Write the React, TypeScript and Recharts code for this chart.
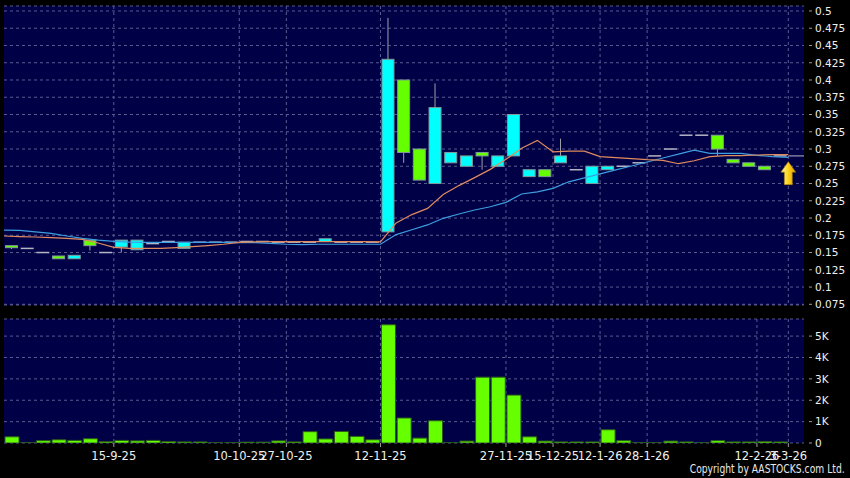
import { ComposedChart, Bar, Line, XAxis, YAxis, CartesianGrid, ReferenceDot, ReferenceLine } from 'recharts';

// daily candles, one per trading slot (slot index = position on the x axis)
const OPEN = [
    0.16, 0.156, 0.15, 0.145, 0.141, 0.168, 0.15, 0.158, 0.154, 0.163,
    0.166, 0.156, 0.165, 0.165, 0.165, 0.166, 0.166, 0.165, 0.165, 0.165,
    0.166, 0.165, 0.165, 0.165, 0.18, 0.4, 0.3, 0.25, 0.28, 0.275,
    0.295, 0.275, 0.29, 0.26, 0.27, 0.28, 0.27, 0.25, 0.27, 0.275,
    0.28, 0.29, 0.3, 0.32, 0.32, 0.32, 0.285, 0.28, 0.275, 0.29,
];
const HIGH = [
    0.16, 0.156, 0.151, 0.145, 0.146, 0.168, 0.15, 0.168, 0.168, 0.163,
    0.166, 0.165, 0.165, 0.165, 0.165, 0.166, 0.166, 0.165, 0.165, 0.165,
    0.17, 0.165, 0.165, 0.165, 0.49, 0.4, 0.3, 0.395, 0.295, 0.29,
    0.295, 0.29, 0.35, 0.27, 0.27, 0.315, 0.27, 0.275, 0.275, 0.275,
    0.28, 0.29, 0.3, 0.32, 0.32, 0.32, 0.285, 0.28, 0.275, 0.29,
];
const LOW = [
    0.155, 0.156, 0.15, 0.141, 0.141, 0.153, 0.15, 0.15, 0.154, 0.163,
    0.166, 0.156, 0.165, 0.165, 0.165, 0.166, 0.166, 0.165, 0.165, 0.165,
    0.166, 0.165, 0.165, 0.165, 0.18, 0.28, 0.255, 0.25, 0.28, 0.275,
    0.27, 0.275, 0.29, 0.26, 0.26, 0.28, 0.27, 0.25, 0.27, 0.275,
    0.28, 0.29, 0.3, 0.32, 0.32, 0.29, 0.28, 0.275, 0.27, 0.29,
];
const CLOSE = [
    0.157, 0.156, 0.15, 0.141, 0.146, 0.16, 0.15, 0.168, 0.168, 0.163,
    0.166, 0.165, 0.165, 0.165, 0.165, 0.166, 0.166, 0.165, 0.165, 0.165,
    0.17, 0.165, 0.165, 0.165, 0.43, 0.295, 0.255, 0.36, 0.295, 0.29,
    0.29, 0.29, 0.35, 0.27, 0.26, 0.29, 0.27, 0.275, 0.275, 0.275,
    0.28, 0.29, 0.3, 0.32, 0.32, 0.3, 0.28, 0.275, 0.27, 0.29,
];
const VOLUME = [
    290, 10, 110, 150, 120, 200, 60, 120, 100, 120,
    70, 50, 50, 10, 10, 40, 40, 100, 50, 530,
    190, 540, 310, 150, 5530, 1170, 230, 1040, 10, 90,
    3080, 3080, 2240, 290, 90, 50, 50, 50, 620, 110,
    10, 10, 90, 50, 10, 110, 50, 50, 70, 50,
];

// moving averages, read at slot boundaries (first value = left border of the plot)
const MA10 = [
    0.174, 0.173, 0.1725, 0.1715, 0.1705, 0.169, 0.1638, 0.1575, 0.156, 0.156,
    0.156, 0.157, 0.1585, 0.16, 0.162, 0.1648, 0.1655, 0.1657, 0.1657, 0.1657,
    0.1657, 0.1657, 0.1657, 0.1657, 0.1655, 0.193, 0.205, 0.214, 0.234, 0.247,
    0.2585, 0.2705, 0.285, 0.301, 0.3125, 0.296, 0.297, 0.297, 0.289, 0.2874,
    0.286, 0.2845, 0.2836, 0.2787, 0.283, 0.289, 0.2903, 0.2905, 0.2913, 0.292,
    0.292,
];
const MA20 = [
    0.1826, 0.1822, 0.18, 0.1778, 0.174, 0.1705, 0.168, 0.1663, 0.165, 0.1648,
    0.1648, 0.1648, 0.1648, 0.1648, 0.1648, 0.1645, 0.1645, 0.1634, 0.162, 0.1615,
    0.162, 0.162, 0.162, 0.162, 0.162, 0.176, 0.183, 0.19, 0.1996, 0.2058,
    0.2116, 0.2164, 0.2227, 0.2348, 0.238, 0.243, 0.2525, 0.2583, 0.264, 0.2697,
    0.2754, 0.2812, 0.287, 0.2926, 0.2983, 0.2937, 0.2937, 0.2937, 0.2908, 0.289,
    0.288,
];

const DATE_POS = [6.5, 14.5, 17.5, 23.5, 31.5, 34.5, 37.5, 40.5, 47.5, 49.5];
const DATE_LABELS = ['15-9-25', '10-10-25', '27-10-25', '12-11-25', '27-11-25', '15-12-25', '12-1-26', '28-1-26', '12-2-26', '3-3-26'];
const PRICE_TICKS = [0.075, 0.1, 0.125, 0.15, 0.175, 0.2, 0.225, 0.25, 0.275, 0.3, 0.325, 0.35, 0.375, 0.4, 0.425, 0.45, 0.475, 0.5];
const VOL_TICKS = [0, 1000, 2000, 3000, 4000, 5000];
const LAST_PRICE = 0.29;
const ARROW_AT = { x: 49.5, price: 0.265 };

const FONT = 'DejaVu Sans';
const PLOT_BG = '#000046';
const GRID = '#5a5a92';
const UP = '#00ffff';
const DOWN = '#66ff00';
const OUTLINE = '#7f9a9a';
const WICK = '#a0a0a8';
const DOJI = '#b4b4c4';

const candles = OPEN.map((o, i) => ({
    x: i,
    open: o,
    high: HIGH[i],
    low: LOW[i],
    close: CLOSE[i],
    range: [LOW[i], HIGH[i]],
}));
const maData = MA10.map((v, k) => ({ x: k - 0.5, ma10: v, ma20: MA20[k] }));
const volData = VOLUME.map((v, i) => ({ x: i, volume: v }));

const Candle = (props: any) => {
    const { x, y, width, height, payload } = props;
    const { open, close, high, low } = payload;
    const span = high - low;
    const toY = (v: number) => (span > 0 ? y + ((high - v) / span) * height : y);
    const cx = x + width / 2;
    const top = toY(Math.max(open, close));
    const bottom = toY(Math.min(open, close));
    if (open === close) {
        return (
            <g>
                {span > 0 && <line x1={cx} x2={cx} y1={y} y2={y + height} stroke={WICK} />}
                <line x1={x} x2={x + width} y1={top} y2={top} stroke={DOJI} strokeWidth={1.5} />
            </g>
        );
    }
    return (
        <g>
            {span > 0 && <line x1={cx} x2={cx} y1={y} y2={y + height} stroke={WICK} />}
            <rect
                x={x + 0.5}
                y={top}
                width={width - 1}
                height={bottom - top}
                fill={close > open ? UP : DOWN}
                stroke={OUTLINE}
            />
        </g>
    );
};

const AxisTick = ({ x, y, payload, fmt }: any) => (
    <g>
        <line x1={x + 5} x2={x + 8} y1={y} y2={y} stroke="#9a9a9a" />
        <text x={x + 11} y={y} dy="0.36em" fill="#f0f0f0" fontSize={10.5} fontFamily={FONT}>
            {fmt ? fmt(payload.value) : payload.value}
        </text>
    </g>
);

const Arrow = ({ cx, cy }: any) => (
    <g>
        <defs>
            <linearGradient id="arrowFill" x1="0" y1="0" x2="1" y2="0">
                <stop offset="0" stopColor="#fff6a8" />
                <stop offset="0.5" stopColor="#ffd21a" />
                <stop offset="1" stopColor="#d99a00" />
            </linearGradient>
        </defs>
        <path
            d={`M${cx},${cy - 11.5} L${cx + 7.5},${cy - 1} L${cx + 4},${cy - 1} L${cx + 4},${cy + 11.5} L${cx - 4},${cy + 11.5} L${cx - 4},${cy - 1} L${cx - 7.5},${cy - 1} Z`}
            fill="url(#arrowFill)"
            stroke="#9a7400"
            strokeWidth={0.6}
        />
    </g>
);

const volFmt = (v: number) => (v === 0 ? '0' : `${v / 1000}K`);

export default function App() {
    return (
        <div style={{ position: 'relative', width: 850, height: 478, background: '#000', overflow: 'hidden' }}>
            <style>{'body{margin:0;background:#000}'}</style>

            <div style={{ position: 'absolute', left: 0, top: 0 }}>
                <ComposedChart width={850} height={312} data={candles} margin={{ top: 6, right: 0, bottom: 7, left: 4 }}>
                    <CartesianGrid
                        fill={PLOT_BG}
                        stroke={GRID}
                        strokeDasharray="3 3"
                        verticalValues={DATE_POS}
                    />
                    <XAxis dataKey="x" type="number" domain={[-0.5, 50.5]} allowDataOverflow ticks={DATE_POS} hide />
                    {/* second x axis so the average lines don't shrink the candle band */}
                    <XAxis xAxisId="ma" dataKey="x" type="number" domain={[-0.5, 50.5]} allowDataOverflow hide />
                    <YAxis
                        orientation="right"
                        type="number"
                        domain={[0.074, 0.5072]}
                        allowDataOverflow
                        ticks={PRICE_TICKS}
                        interval={0}
                        width={46}
                        axisLine={false}
                        tickLine={false}
                        tickSize={0}
                        tickMargin={0}
                        tick={<AxisTick />}
                    />
                    <Bar dataKey="range" barSize={13} shape={<Candle />} isAnimationActive={false} />
                    <Line xAxisId="ma" data={maData} dataKey="ma20" type="linear" stroke="#3c9ee0" strokeWidth={1.2} dot={false} isAnimationActive={false} />
                    <Line xAxisId="ma" data={maData} dataKey="ma10" type="linear" stroke="#e08a5e" strokeWidth={1.2} dot={false} isAnimationActive={false} />
                    <ReferenceLine
                        segment={[{ x: 49.5, y: LAST_PRICE }, { x: 50.5, y: LAST_PRICE }]}
                        stroke="#9a9ab0"
                        strokeWidth={1.2}
                    />
                    <ReferenceDot x={ARROW_AT.x} y={ARROW_AT.price} ifOverflow="visible" shape={<Arrow />} />
                </ComposedChart>
            </div>

            <div style={{ position: 'absolute', left: 0, top: 312 }}>
                <ComposedChart width={850} height={166} data={volData} margin={{ top: 7, right: 0, bottom: 5, left: 4 }}>
                    <CartesianGrid
                        fill={PLOT_BG}
                        stroke={GRID}
                        strokeDasharray="3 3"
                        verticalValues={DATE_POS}
                    />
                    <XAxis
                        dataKey="x"
                        type="number"
                        domain={[-0.5, 50.5]}
                        allowDataOverflow
                        ticks={DATE_POS}
                        interval={0}
                        height={30}
                        tickFormatter={(v: number) => DATE_LABELS[DATE_POS.indexOf(v)]}
                        axisLine={false}
                        tickLine={{ stroke: '#9a9a9a' }}
                        tickSize={4}
                        tickMargin={5}
                        tick={{ fill: '#f0f0f0', fontSize: 11.5, fontFamily: FONT }}
                    />
                    <YAxis
                        orientation="right"
                        type="number"
                        domain={[0, 5800]}
                        allowDataOverflow
                        ticks={VOL_TICKS}
                        interval={0}
                        width={46}
                        axisLine={false}
                        tickLine={false}
                        tickSize={0}
                        tickMargin={0}
                        tick={<AxisTick fmt={volFmt} />}
                    />
                    <Bar dataKey="volume" barSize={14} fill={DOWN} stroke="#2b5a1c" isAnimationActive={false} />
                </ComposedChart>
            </div>

            <div
                style={{
                    position: 'absolute',
                    right: 5,
                    top: 462,
                    color: '#e8e8e8',
                    fontFamily: FONT,
                    fontSize: 11.5,
                    lineHeight: '14px',
                    whiteSpace: 'nowrap',
                    transform: 'scaleX(0.8)',
                    transformOrigin: 'right center',
                }}
            >
                Copyright by AASTOCKS.com Ltd.
            </div>
        </div>
    );
}
